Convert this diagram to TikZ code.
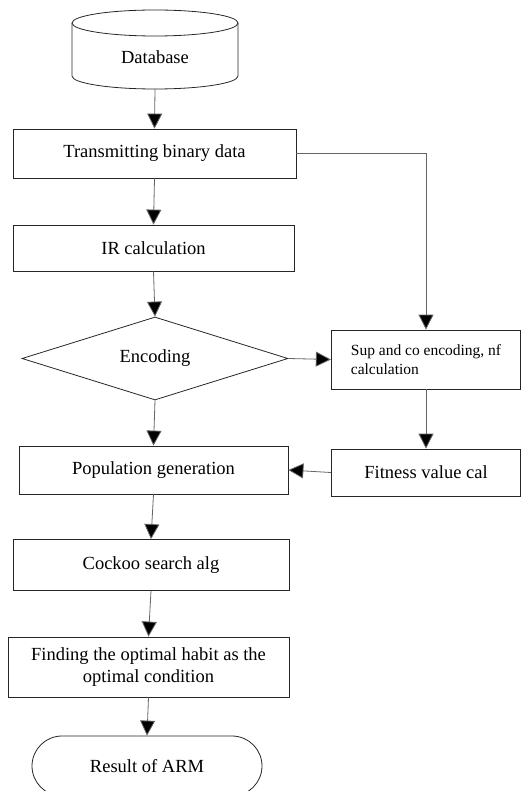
\documentclass[tikz,border=0pt]{standalone}
\usepackage{fontspec}
\setmainfont{Liberation Serif}
\usetikzlibrary{arrows.meta,shapes.geometric,shapes.misc}
\begin{document}
\begin{tikzpicture}[x=1pt,y=-1pt,
  box/.style={draw=black!85, line width=0.8pt, rectangle, inner sep=0pt, font=\fontsize{18.5}{22}\selectfont, align=center},
  conn/.style={draw=black!60, line width=0.8pt},
  arr/.style={conn, -{Triangle[length=15pt,width=15pt,fill=black]}},
]
\useasboundingbox (0,0) rectangle (521,791);
\begin{scope}
\clip (0,0) rectangle (521,791);
% Database cylinder
\draw[black!85, line width=0.8pt] (72,23) -- (72,76) arc[start angle=180,end angle=0,x radius=83,y radius=13] -- (238,23);
\draw[black!85, line width=0.8pt] (155,23) ellipse[x radius=83,y radius=13];
\node[font=\fontsize{18.5}{22}\selectfont] (db) at (155,57) {Database};
\coordinate (dbB) at (155,89);

\node[box, minimum width=283pt, minimum height=49pt] (tx) at (154.5,153.5) {Transmitting binary data};
\node[box, minimum width=281pt, minimum height=46pt] (ir) at (153.5,248) {IR calculation};
\node[box, diamond, aspect=3.2, minimum width=266pt, minimum height=83pt] (enc) at (155,358.5) {Encoding};
\node[box, minimum width=189.5pt, minimum height=59pt, align=left, font=\fontsize{15.5}{19}\selectfont] (sup) at (426,359.5) {Sup and co encoding, nf\\calculation};
\node[box, minimum width=189.5pt, minimum height=47pt] (fit) at (426,472.5) {Fitness value cal};
\node[box, minimum width=269pt, minimum height=48pt] (pop) at (153.5,470) {Population generation};
\node[box, minimum width=276pt, minimum height=51pt] (ck) at (151,565) {Cockoo search alg};
\node[box, minimum width=281pt, minimum height=60pt] (fd) at (148.5,667) {Finding the optimal habit as the\\optimal condition};
\node[box, rounded rectangle, minimum width=230pt, minimum height=60pt] (res) at (147,766) {Result of ARM};

\draw[arr] (dbB) -- (tx.north);
\draw[arr] (tx.east) -| (sup.north);
\draw[arr] (tx.south) -- (ir.north);
\draw[arr] (ir.south) -- (enc.north);
\draw[arr] (enc.east) -- (sup.west);
\draw[arr] (sup.south) -- (fit.north);
\draw[arr] (fit.west) -- (pop.east);
\draw[arr] (enc.south) -- (pop.north);
\draw[arr] (pop.south) -- (ck.north);
\draw[arr] (ck.south) -- (fd.north);
\draw[arr] (fd.south) -- (res.north);
\end{scope}
\end{tikzpicture}
\end{document}
